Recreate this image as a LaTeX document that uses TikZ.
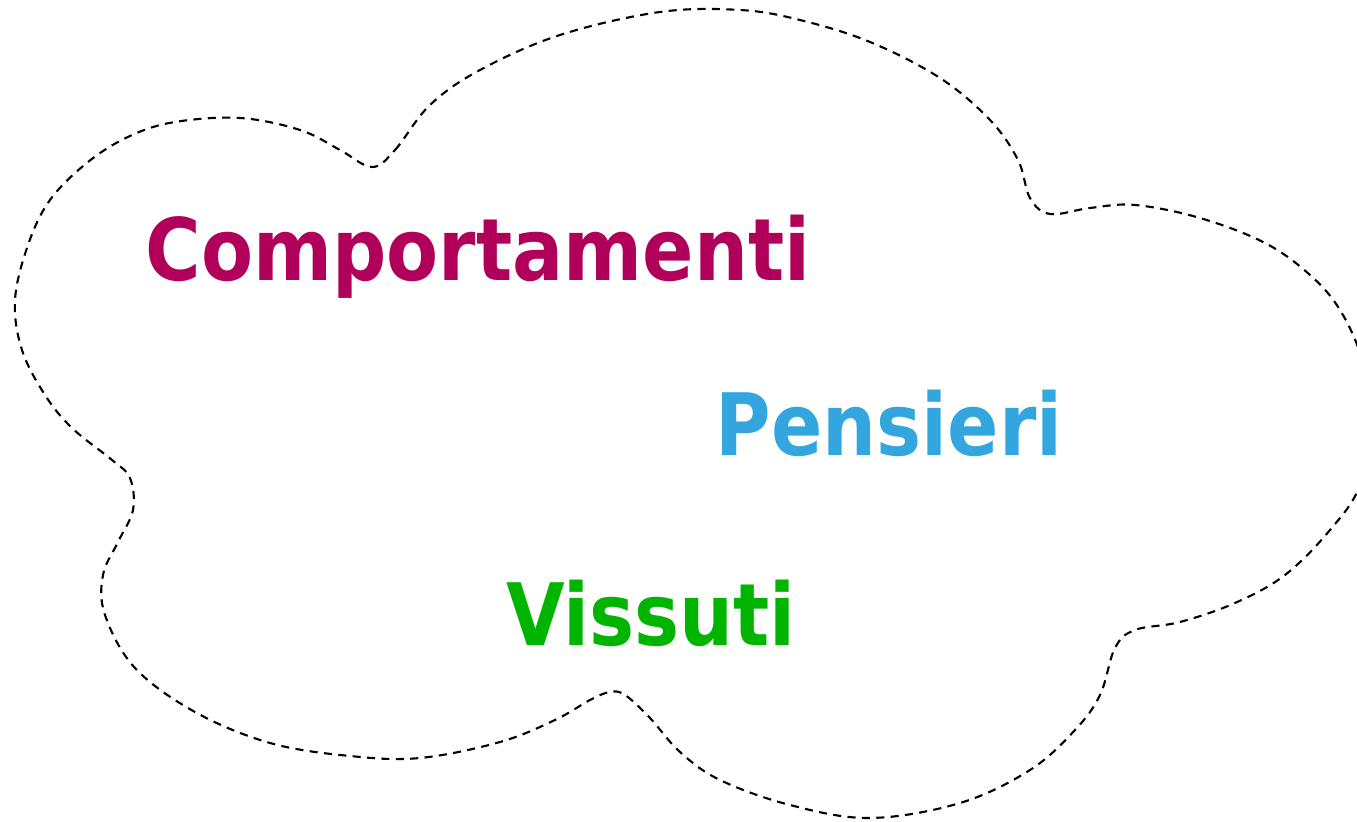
\documentclass[tikz,border=0pt]{standalone}
\usepackage{fontspec}
\newfontfamily\wordfont{DejaVu Sans}
\definecolor{wordmagenta}{RGB}{176,0,90}
\definecolor{wordblue}{RGB}{51,166,224}
\definecolor{wordgreen}{RGB}{0,180,0}
\tikzset{
  cloud line/.style={
    draw=black,
    line width=0.6pt,
    dash pattern=on 2.3pt off 1.8pt,
  }
}
\tikzset{
  word node/.style={
    font=\wordfont\bfseries\fontsize{24.5pt}{30pt}\selectfont,
    inner sep=0pt,
    anchor=base,
    xscale=0.88,
  }
}
\begin{document}
\begin{tikzpicture}[
    x=0.01cm,
    y=-0.01cm,
    ]

    \useasboundingbox (0,0) rectangle (1357,822);

    % the cloud
    \draw[cloud line] plot[smooth cycle, tension=0.6] coordinates {
      (372,167) (395,150) (430,105) (480,70) (560,35) (660,12) (740,10)
      (800,20) (870,42) (940,78) (990,120) (1018,160) (1030,198) (1050,214)
      (1090,208) (1135,205) (1200,218) (1265,243) (1310,275) (1340,310)
      (1362,360) (1370,420) (1360,485) (1330,530) (1285,575) (1235,603)
      (1180,622) (1135,630) (1115,648) (1100,695) (1075,730) (1030,770)
      (960,803) (870,818) (790,805) (720,780) (680,752) (650,718) (625,695)
      (610,692) (590,700) (555,720) (500,742) (420,758) (350,756) (270,743)
      (195,712) (135,668) (105,615) (103,575) (118,542) (133,510) (130,478)
      (112,460) (72,428) (45,395) (22,350) (15,300) (28,245) (50,200)
      (88,162) (130,136) (175,122) (240,118) (300,130) (340,150)
    };

    % the words
    \foreach \x/\y/\name/\col/\txt in {
      478/281/comp/wordmagenta/Comportamenti,
      889/456/pens/wordblue/Pensieri,
      651/646/viss/wordgreen/Vissuti}{
      \node[word node, text=\col] (\name) at (\x,\y) {\txt};
    }

  \end{tikzpicture}
\end{document}
